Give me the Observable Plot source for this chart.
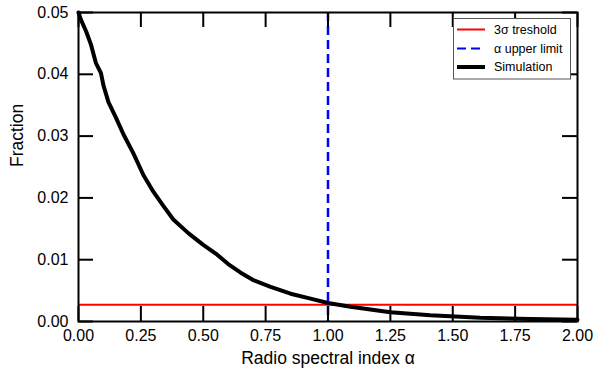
<!DOCTYPE html>
<html><head><meta charset="utf-8">
<script src="https://cdn.jsdelivr.net/npm/d3@7"></script>
<script src="https://cdn.jsdelivr.net/npm/@observablehq/plot@0.6"></script>
<style>body{margin:0;background:#fff} #chart{width:596px;height:377px}</style>
</head><body><div id="chart"></div>
<script>
// Simulation curve
const alpha = [0, 0.01, 0.03, 0.05, 0.07, 0.09, 0.10, 0.12, 0.15, 0.18, 0.22, 0.26, 0.30, 0.34, 0.38, 0.44, 0.50, 0.55, 0.60, 0.65, 0.70, 0.77, 0.85, 0.93, 1.00, 1.09, 1.25, 1.41, 1.61, 1.81, 2.00];
const fraction = [0.0500, 0.0488, 0.0470, 0.0448, 0.0418, 0.0402, 0.0382, 0.0355, 0.0330, 0.0303, 0.0272, 0.0237, 0.0210, 0.0187, 0.0165, 0.0143, 0.0124, 0.0110, 0.0093, 0.0079, 0.0067, 0.0056, 0.0045, 0.0037, 0.0030, 0.0024, 0.0015, 0.0010, 0.0006, 0.0004, 0.0003];
const threshold = [0.0027];
const upperLimit = [1.0];
const xTicks = [0, 0.25, 0.5, 0.75, 1.0, 1.25, 1.5, 1.75, 2.0];
const yTicks = [0, 0.01, 0.02, 0.03, 0.04, 0.05];
const xTitle = "Radio spectral index α";
const yTitle = "Fraction";
const legendLabels = ["3σ treshold", "α upper limit", "Simulation"];
const legendColors = ["#ff0000", "#0000ff", "#000000"];

const sim = alpha.map((a, i) => ({a, f: fraction[i]}));
const W = 596, H = 377, mL = 78, mR = 19, mT = 12, mB = 56;
const fh = H - mT - mB, fw = W - mL - mR;
const tickLen = 15;
const font = "'Liberation Sans', Arial, sans-serif";

const svg = Plot.plot({
  width: W, height: H,
  marginLeft: mL, marginRight: mR, marginTop: mT, marginBottom: mB,
  style: {fontFamily: font, fontSize: "16px", color: "#000", background: "#fff"},
  x: {domain: [0, 2]},
  y: {domain: [0, 0.05]},
  marks: [
    Plot.ruleY(threshold, {stroke: "#ff0000", strokeWidth: 2}),
    Plot.ruleX(upperLimit, {stroke: "#0000ff", strokeWidth: 2.5, strokeDasharray: "9,5"}),
    Plot.line(sim, {x: "a", y: "f", stroke: "#000", strokeWidth: 4, strokeLinejoin: "round"}),
    Plot.tickX(xTicks, {x: d => d, insetTop: fh - tickLen, stroke: "#000", strokeWidth: 2}),
    Plot.tickX(xTicks, {x: d => d, insetBottom: fh - tickLen, stroke: "#000", strokeWidth: 2}),
    Plot.tickY(yTicks, {y: d => d, insetRight: fw - tickLen, stroke: "#000", strokeWidth: 2}),
    Plot.tickY(yTicks, {y: d => d, insetLeft: fw - tickLen, stroke: "#000", strokeWidth: 2}),
    Plot.frame({stroke: "#000", strokeWidth: 2}),
    Plot.axisX(xTicks, {tickSize: 0, tickPadding: 8, tickFormat: d3.format(".2f"), fontSize: 16, label: null}),
    Plot.axisY(yTicks, {tickSize: 0, tickPadding: 10, tickFormat: d3.format(".2f"), fontSize: 16, label: null}),
    Plot.text([xTitle], {frameAnchor: "bottom", dy: 42, fontSize: 17.5, text: d => d}),
    Plot.text([yTitle], {frameAnchor: "left", dx: -61, rotate: -90, fontSize: 17.5, text: d => d})
  ]
});

// Legend
const g = d3.select(svg).append("g")
  .attr("font-family", font).attr("font-size", 12.5)
  .style("text-anchor", "start");
g.append("rect").attr("x", 453.5).attr("y", 18.5).attr("width", 117).attr("height", 60.5)
  .style("fill", "#fff").style("stroke", "#555").style("stroke-width", "1px");
const ly = [29.5, 48.5, 67];
legendLabels.forEach((lab, i) => {
  const line = g.append("line").attr("x1", 457).attr("x2", 485).attr("y1", ly[i]).attr("y2", ly[i])
    .attr("stroke", legendColors[i]).attr("stroke-width", i === 2 ? 4 : 2);
  if (i === 1) line.attr("stroke-dasharray", "9,5");
  g.append("text").attr("x", 494).attr("y", ly[i] + 4.4)
    .style("text-anchor", "start").attr("fill", "#000").text(lab);
});

document.getElementById("chart").appendChild(svg);
</script>
</body></html>
